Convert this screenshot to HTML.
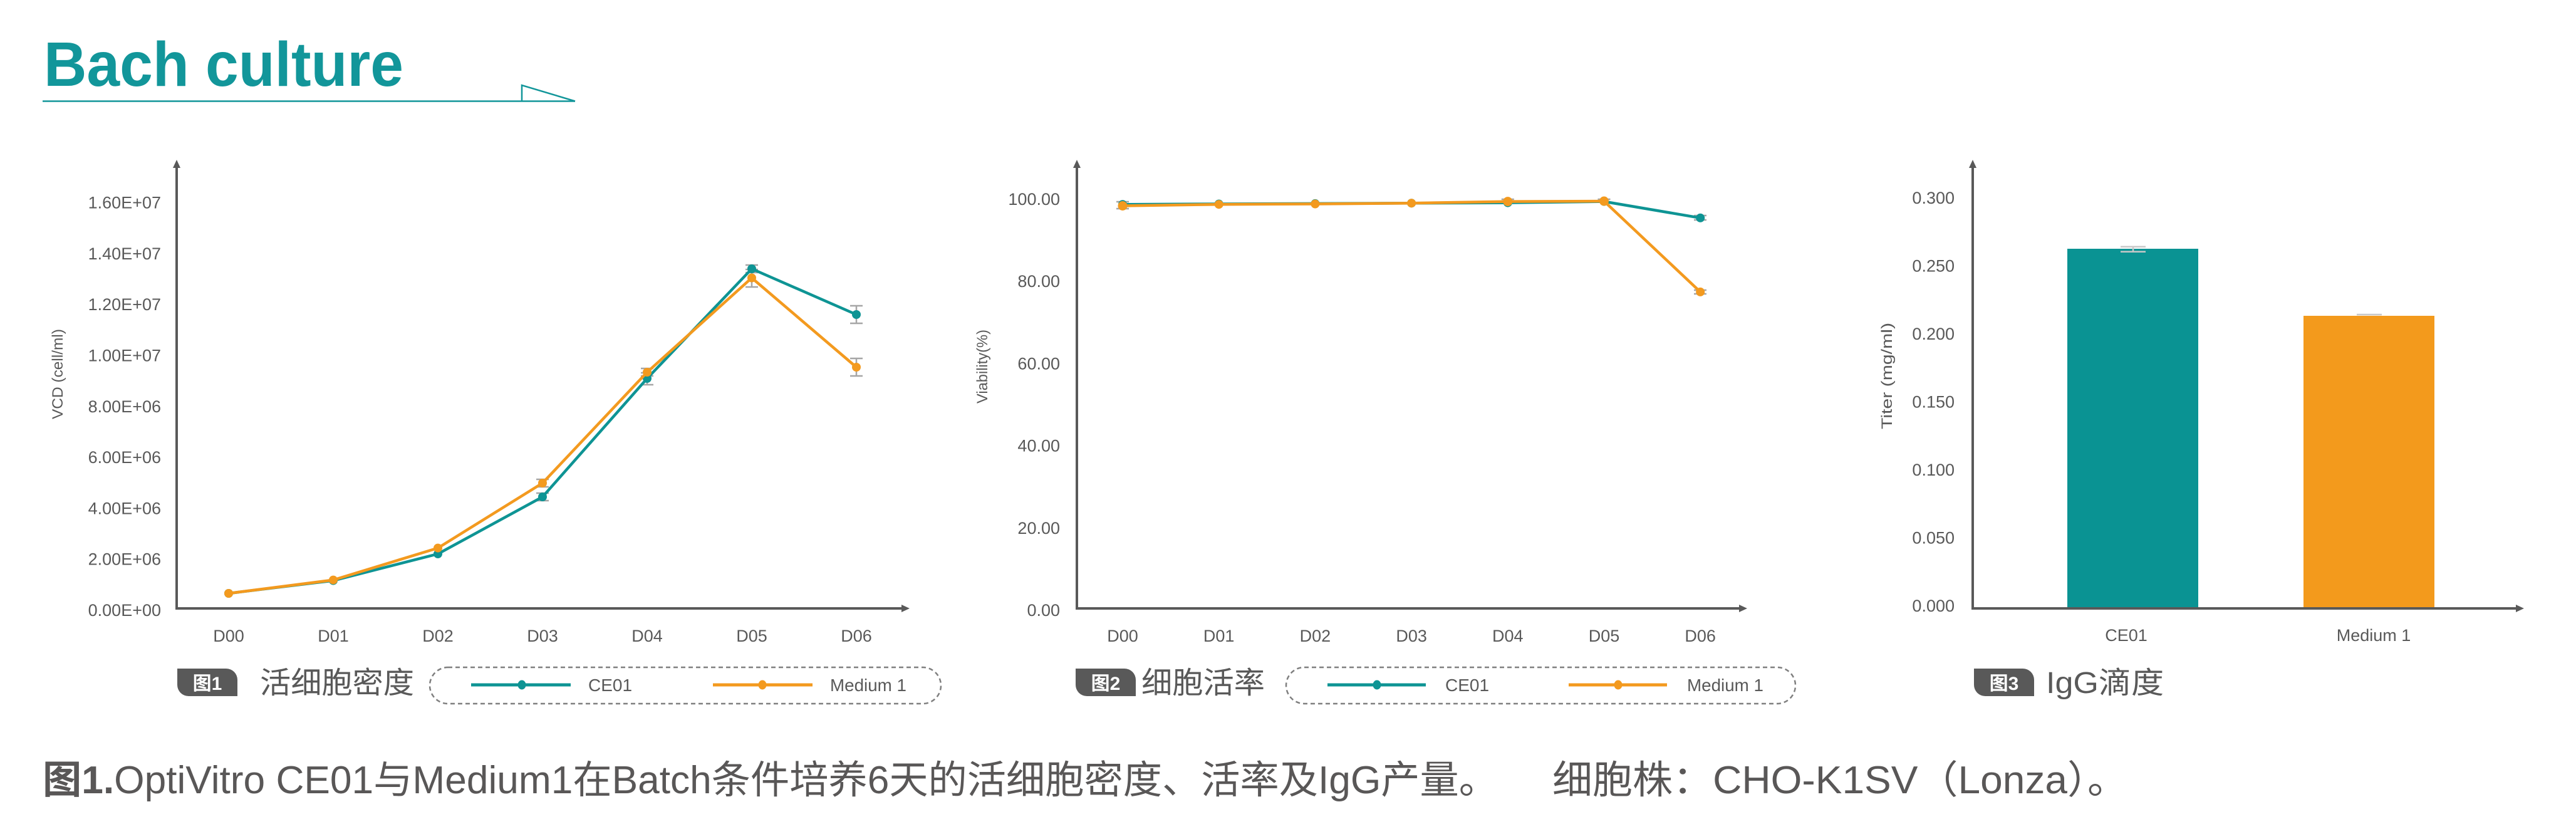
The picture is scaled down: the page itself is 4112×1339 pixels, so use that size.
<!DOCTYPE html>
<html>
<head>
<meta charset="utf-8">
<style>
  html,body{margin:0;padding:0;background:#fff;}
  svg{display:block;}
  text{font-family:"Liberation Sans","Noto Sans CJK SC",sans-serif;fill:#595959;}
</style>
</head>
<body>
<svg width="4112" height="1339" viewBox="0 0 4112 1339" xmlns="http://www.w3.org/2000/svg">
  <rect x="0" y="0" width="4112" height="1339" fill="#fff"/>

  <!-- Title -->
  <text x="70" y="137" font-size="100" font-weight="bold" style="fill:#12969a" textLength="574" lengthAdjust="spacingAndGlyphs">Bach culture</text>
  <line x1="68" y1="161.5" x2="918" y2="161.5" stroke="#12969a" stroke-width="2.5"/>
  <polyline points="833,161.5 833,136 918,161.5" fill="none" stroke="#12969a" stroke-width="2.5"/>

  <!-- ================= Chart 1 ================= -->
  <g stroke="#595959" stroke-width="4" fill="none">
    <line x1="282" y1="265" x2="282" y2="973"/>
    <line x1="280" y1="971" x2="1440" y2="971"/>
  </g>
  <polygon points="282,255 276,268 288,268" fill="#595959"/>
  <polygon points="1452,971 1439,965 1439,977" fill="#595959"/>

  <g font-size="27" text-anchor="end">
    <text x="257" y="983">0.00E+00</text>
    <text x="257" y="901.7">2.00E+06</text>
    <text x="257" y="820.4">4.00E+06</text>
    <text x="257" y="739.1">6.00E+06</text>
    <text x="257" y="657.8">8.00E+06</text>
    <text x="257" y="576.5">1.00E+07</text>
    <text x="257" y="495.2">1.20E+07</text>
    <text x="257" y="413.9">1.40E+07</text>
    <text x="257" y="332.6">1.60E+07</text>
  </g>
  <text transform="translate(92,597) rotate(-90)" x="0" y="8" font-size="24" text-anchor="middle" textLength="144" lengthAdjust="spacingAndGlyphs">VCD (cell/ml)</text>

  <g font-size="27" text-anchor="middle">
    <text x="365" y="1024">D00</text>
    <text x="532" y="1024">D01</text>
    <text x="699" y="1024">D02</text>
    <text x="866" y="1024">D03</text>
    <text x="1033" y="1024">D04</text>
    <text x="1200" y="1024">D05</text>
    <text x="1367" y="1024">D06</text>
  </g>

  <!-- error bars chart1 -->
  <g stroke="#a6a6a6" stroke-width="2.5" fill="none">
    <path d="M866,787 V799 M856,787 H876 M856,799 H876"/>
    <path d="M866,765 V777 M856,765 H876 M856,777 H876"/>
    <path d="M1033,595 V614 M1023,595 H1043 M1023,614 H1043"/>
    <path d="M1033,588 V600 M1023,588 H1043 M1023,600 H1043"/>
    <path d="M1200,423 V435 M1190,423 H1210 M1190,435 H1210"/>
    <path d="M1200,430 V458 M1190,430 H1210 M1190,458 H1210"/>
    <path d="M1367,488 V516 M1357,488 H1377 M1357,516 H1377"/>
    <path d="M1367,572 V600 M1357,572 H1377 M1357,600 H1377"/>
  </g>

  <!-- teal series -->
  <polyline points="365,947 532,926.6 699,884 866,793 1033,604 1200,429 1367,502" fill="none" stroke="#0e9494" stroke-width="4.5" stroke-linejoin="round"/>
  <g fill="#0e9494">
    <circle cx="365" cy="947" r="7"/><circle cx="532" cy="926.6" r="7"/><circle cx="699" cy="884" r="7"/>
    <circle cx="866" cy="793" r="7"/><circle cx="1033" cy="604" r="7"/><circle cx="1200" cy="429" r="7"/><circle cx="1367" cy="502" r="7"/>
  </g>
  <!-- orange series -->
  <polyline points="365,947 532,925.6 699,874.6 866,771 1033,594 1200,443.5 1367,586" fill="none" stroke="#f39a1f" stroke-width="4.5" stroke-linejoin="round"/>
  <g fill="#f39a1f">
    <circle cx="365" cy="947" r="7"/><circle cx="532" cy="925.6" r="7"/><circle cx="699" cy="874.6" r="7"/>
    <circle cx="866" cy="771" r="7"/><circle cx="1033" cy="594" r="7"/><circle cx="1200" cy="443.5" r="7"/><circle cx="1367" cy="586" r="7"/>
  </g>

  <!-- fig label 1 -->
  <path d="M283,1067 H361 A18,18 0 0 1 379,1085 V1111 H301 A18,18 0 0 1 283,1093 Z" fill="#595959"/>
  <text x="331" y="1101" font-size="30" font-weight="bold" text-anchor="middle" style="fill:#fff">图1</text>
  <text x="415" y="1106" font-size="48" textLength="246" lengthAdjust="spacingAndGlyphs">活细胞密度</text>

  <!-- legend 1 -->
  <rect x="686" y="1065" width="816" height="58" rx="29" ry="29" fill="none" stroke="#7f7f7f" stroke-width="2.5" stroke-dasharray="7 5"/>
  <line x1="752" y1="1093" x2="911" y2="1093" stroke="#0e9494" stroke-width="5"/>
  <ellipse cx="833" cy="1093" rx="6.5" ry="7.5" fill="#0e9494"/>
  <text x="939" y="1103" font-size="28">CE01</text>
  <line x1="1138" y1="1093" x2="1297" y2="1093" stroke="#f39a1f" stroke-width="5"/>
  <ellipse cx="1217" cy="1093" rx="6.5" ry="7.5" fill="#f39a1f"/>
  <text x="1325" y="1103" font-size="28" textLength="122" lengthAdjust="spacingAndGlyphs">Medium 1</text>

  <!-- ================= Chart 2 ================= -->
  <g stroke="#595959" stroke-width="4" fill="none">
    <line x1="1719" y1="265" x2="1719" y2="973"/>
    <line x1="1717" y1="971" x2="2777" y2="971"/>
  </g>
  <polygon points="1719,255 1713,268 1725,268" fill="#595959"/>
  <polygon points="2789,971 2776,965 2776,977" fill="#595959"/>

  <g font-size="27" text-anchor="end">
    <text x="1692" y="983">0.00</text>
    <text x="1692" y="851.8">20.00</text>
    <text x="1692" y="720.6">40.00</text>
    <text x="1692" y="589.4">60.00</text>
    <text x="1692" y="458.2">80.00</text>
    <text x="1692" y="327">100.00</text>
  </g>
  <text transform="translate(1568,585) rotate(-90)" x="0" y="8" font-size="24" text-anchor="middle" textLength="118" lengthAdjust="spacingAndGlyphs">Viability(%)</text>

  <g font-size="27" text-anchor="middle">
    <text x="1792" y="1024">D00</text>
    <text x="1945.7" y="1024">D01</text>
    <text x="2099.4" y="1024">D02</text>
    <text x="2253.1" y="1024">D03</text>
    <text x="2406.8" y="1024">D04</text>
    <text x="2560.5" y="1024">D05</text>
    <text x="2714.2" y="1024">D06</text>
  </g>

  <g stroke="#a6a6a6" stroke-width="2.5" fill="none">
    <path d="M1782,322 H1802 M1782,333 H1802 M1792,322 V333"/>
    <path d="M2704,344 H2724 M2704,351 H2724"/>
    <path d="M2704,463 H2724 M2704,469 H2724"/>
    <path d="M2396.8,318 H2416.8"/>
    <path d="M2550.5,318 H2570.5"/>
  </g>

  <polyline points="1792,326.2 1945.7,325.5 2099.4,324.9 2253.1,324.2 2406.8,323.6 2560.5,321.6 2714.2,347.8" fill="none" stroke="#0e9494" stroke-width="4.5" stroke-linejoin="round"/>
  <g fill="#0e9494">
    <circle cx="1792" cy="326.2" r="7"/><circle cx="1945.7" cy="325.5" r="7"/><circle cx="2099.4" cy="324.9" r="7"/>
    <circle cx="2253.1" cy="324.2" r="7"/><circle cx="2406.8" cy="323.6" r="7"/><circle cx="2560.5" cy="321.6" r="7"/><circle cx="2714.2" cy="347.8" r="7"/>
  </g>
  <polyline points="1792,328.5 1945.7,326.2 2099.4,325.5 2253.1,324.2 2406.8,321.6 2560.5,321 2714.2,465.9" fill="none" stroke="#f39a1f" stroke-width="4.5" stroke-linejoin="round"/>
  <g fill="#f39a1f">
    <circle cx="1792" cy="328.5" r="7.5"/><circle cx="1945.7" cy="326.2" r="7"/><circle cx="2099.4" cy="325.5" r="7"/>
    <circle cx="2253.1" cy="324.2" r="7"/><circle cx="2406.8" cy="321.6" r="7.5"/><circle cx="2560.5" cy="321" r="7.5"/><circle cx="2714.2" cy="465.9" r="7"/>
  </g>

  <path d="M1717,1067 H1795 A18,18 0 0 1 1813,1085 V1111 H1735 A18,18 0 0 1 1717,1093 Z" fill="#595959"/>
  <text x="1765" y="1101" font-size="30" font-weight="bold" text-anchor="middle" style="fill:#fff">图2</text>
  <text x="1822" y="1106" font-size="48" textLength="197" lengthAdjust="spacingAndGlyphs">细胞活率</text>

  <rect x="2053" y="1065" width="813" height="58" rx="29" ry="29" fill="none" stroke="#7f7f7f" stroke-width="2.5" stroke-dasharray="7 5"/>
  <line x1="2119" y1="1093" x2="2276" y2="1093" stroke="#0e9494" stroke-width="5"/>
  <ellipse cx="2198" cy="1093" rx="6.5" ry="7.5" fill="#0e9494"/>
  <text x="2307" y="1103" font-size="28">CE01</text>
  <line x1="2504" y1="1093" x2="2661" y2="1093" stroke="#f39a1f" stroke-width="5"/>
  <ellipse cx="2583" cy="1093" rx="6.5" ry="7.5" fill="#f39a1f"/>
  <text x="2693" y="1103" font-size="28" textLength="122" lengthAdjust="spacingAndGlyphs">Medium 1</text>

  <!-- ================= Chart 3 ================= -->
  <rect x="3300" y="397" width="209" height="574" fill="#0a9393"/>
  <rect x="3677" y="504" width="209" height="467" fill="#f39a1c"/>
  <g stroke="#c8c8c8" stroke-width="2.5" fill="none">
    <path d="M3385,393.7 H3425 M3385,401.7 H3425 M3405,393.7 V401.7"/>
    <path d="M3762,502 H3802"/>
  </g>

  <g stroke="#595959" stroke-width="4" fill="none">
    <line x1="3149" y1="265" x2="3149" y2="973"/>
    <line x1="3147" y1="971" x2="4017" y2="971"/>
  </g>
  <polygon points="3149,255 3143,268 3155,268" fill="#595959"/>
  <polygon points="4029,971 4016,965 4016,977" fill="#595959"/>

  <g font-size="27" text-anchor="end">
    <text x="3120" y="976">0.000</text>
    <text x="3120" y="867.5">0.050</text>
    <text x="3120" y="759">0.100</text>
    <text x="3120" y="650.5">0.150</text>
    <text x="3120" y="542">0.200</text>
    <text x="3120" y="433.5">0.250</text>
    <text x="3120" y="325">0.300</text>
  </g>
  <text transform="translate(3012,600) rotate(-90)" x="0" y="8" font-size="24" text-anchor="middle" textLength="170" lengthAdjust="spacingAndGlyphs">Titer (mg/ml)</text>

  <g font-size="27" text-anchor="middle">
    <text x="3394" y="1023">CE01</text>
    <text x="3789" y="1023">Medium 1</text>
  </g>

  <path d="M3151,1067 H3229 A18,18 0 0 1 3247,1085 V1111 H3169 A18,18 0 0 1 3151,1093 Z" fill="#595959"/>
  <text x="3199" y="1101" font-size="30" font-weight="bold" text-anchor="middle" style="fill:#fff">图3</text>
  <text x="3266" y="1106" font-size="48" textLength="188" lengthAdjust="spacingAndGlyphs">IgG滴度</text>

  <!-- ================= Caption ================= -->
  <text x="68" y="1266" font-size="62" style="fill:#595757" textLength="2323" lengthAdjust="spacingAndGlyphs"><tspan font-weight="bold">图1.</tspan>OptiVitro CE01与Medium1在Batch条件培养6天的活细胞密度、活率及IgG产量。</text>
  <text x="2478" y="1266" font-size="62" style="fill:#595757" textLength="918" lengthAdjust="spacingAndGlyphs">细胞株：CHO-K1SV（Lonza）。</text>
</svg>
</body>
</html>
